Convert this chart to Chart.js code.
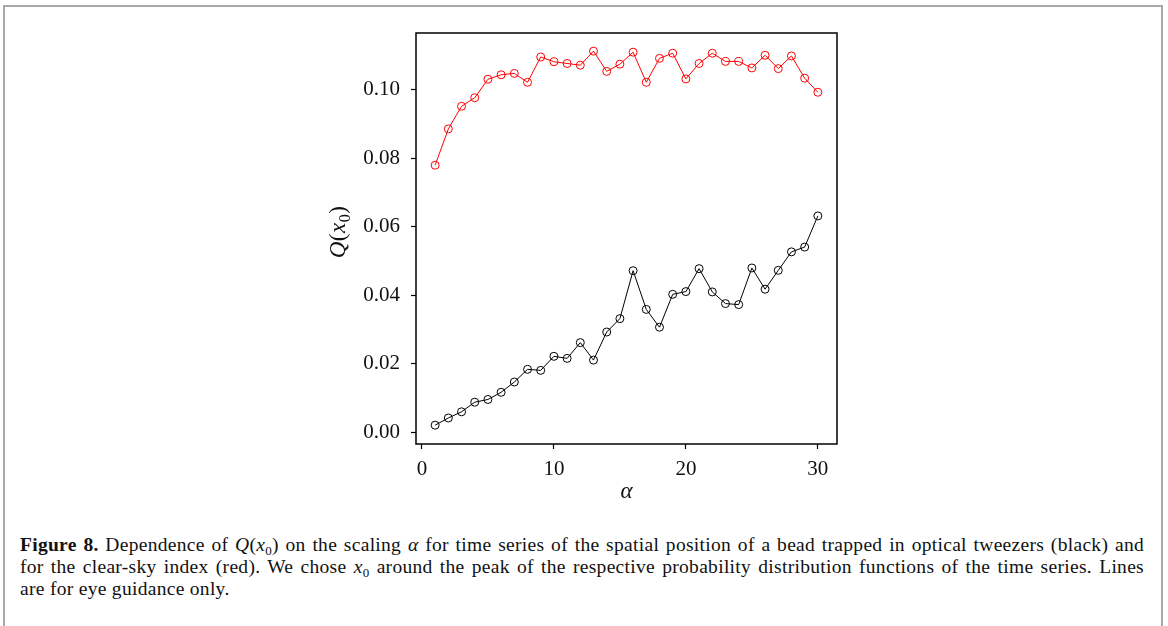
<!DOCTYPE html>
<html>
<head>
<meta charset="utf-8">
<script src="https://cdn.jsdelivr.net/npm/chart.js@4.4.1/dist/chart.umd.min.js"></script>
<style>
  body { margin: 0; background: #fff; }
  #frame {
    position: absolute; left: 3px; top: 5px; width: 1160px; height: 700px;
    border: 2px solid #a8a8a8; box-sizing: border-box;
  }
  #chart { position: absolute; left: 0; top: 0; }
  #caption {
    position: absolute; left: 20px; top: 534px; width: 1124px;
    font-family: "Liberation Serif", serif; font-size: 19.5px; line-height: 22px;
    letter-spacing: 0.3px; color: #111;
  }
  #caption div { text-align: justify; text-align-last: justify; height: 22px; white-space: nowrap; }
  #caption div.last { text-align-last: left; }
  #caption sub { font-size: 13px; line-height: 0; vertical-align: -4px; font-style: normal; }
</style>
</head>
<body>
<div id="frame"></div>
<canvas id="chart" width="1168" height="510"></canvas>
<div id="caption">
  <div><b>Figure 8.</b> Dependence of <i>Q</i>(<i>x</i><sub>0</sub>) on the scaling <i>α</i> for time series of the spatial position of a bead trapped in optical tweezers (black) and</div>
  <div>for the clear-sky index (red). We chose <i>x</i><sub>0</sub> around the peak of the respective probability distribution functions of the time series. Lines</div>
  <div class="last">are for eye guidance only.</div>
</div>
<script>
// data
const alphas = [1, 2, 3, 4, 5, 6, 7, 8, 9, 10, 11, 12, 13, 14, 15, 16, 17, 18, 19, 20, 21, 22, 23, 24, 25, 26, 27, 28, 29, 30];
const qTweezers = [0.0020, 0.0041, 0.0059, 0.0087, 0.0095, 0.0116, 0.0146, 0.0183, 0.0180, 0.0221,
  0.0215, 0.0261, 0.0210, 0.0292, 0.0331, 0.0471, 0.0358, 0.0306, 0.0402, 0.0410,
  0.0477, 0.0409, 0.0375, 0.0372, 0.0479, 0.0417, 0.0472, 0.0526, 0.0540, 0.0631];
const qClearSky = [0.0779, 0.0885, 0.0951, 0.0976, 0.1030, 0.1043, 0.1047, 0.1021, 0.1095, 0.1081,
  0.1076, 0.1071, 0.1112, 0.1053, 0.1074, 0.1109, 0.1021, 0.1091, 0.1106, 0.1031,
  0.1076, 0.1106, 0.1082, 0.1082, 0.1063, 0.1100, 0.1061, 0.1098, 0.1033, 0.0992];
const xTicks = [0, 10, 20, 30];
const yTicks = [0.00, 0.02, 0.04, 0.06, 0.08, 0.10];

function pts(ys) {
  return alphas.map((a, i) => ({ x: a, y: ys[i] }));
}

function series(ys, color) {
  return {
    data: pts(ys),
    showLine: true,
    borderColor: color,
    borderWidth: 1,
    pointStyle: "circle",
    pointRadius: 4,
    pointBorderWidth: 1,
    pointBorderColor: color,
    pointBackgroundColor: "rgba(0,0,0,0)",
  };
}

const serif = "'Liberation Serif', serif";

// box round the plot area + the Q(x0) label drawn math style
const boxPlugin = {
  id: "box",
  afterDraw(chart) {
    const a = chart.chartArea;
    const c = chart.ctx;
    c.save();
    c.strokeStyle = "#000";
    c.lineWidth = 1.5;
    c.strokeRect(a.left, a.top, a.right - a.left, a.bottom - a.top);

    // y title, rotated
    const parts = [
      { t: "Q", f: "italic 23px " + serif, dy: 0 },
      { t: "(", f: "23px " + serif, dy: 0 },
      { t: "x", f: "italic 23px " + serif, dy: 0 },
      { t: "0", f: "16px " + serif, dy: 5 },
      { t: ")", f: "23px " + serif, dy: 0 },
    ];
    let w = 0;
    parts.forEach((p) => { c.font = p.f; p.w = c.measureText(p.t).width; w += p.w + 0.5; });
    c.translate(345, 232);
    c.rotate(-Math.PI / 2);
    c.fillStyle = "#111";
    c.textBaseline = "alphabetic";
    let x = -w / 2;
    parts.forEach((p) => { c.font = p.f; c.fillText(p.t, x, p.dy); x += p.w + 0.5; });
    c.restore();
  },
};

const tickFont = { family: serif, size: 21 };
const titleFont = { family: serif, size: 23, style: "italic" };

new Chart(document.getElementById("chart"), {
  type: "scatter",
  data: { datasets: [series(qTweezers, "#000000"), series(qClearSky, "#ff0000")] },
  options: {
    responsive: false,
    animation: false,
    devicePixelRatio: 1,
    layout: { padding: { left: 320, top: 33, right: 331, bottom: 0 } },
    plugins: { legend: { display: false }, tooltip: { enabled: false } },
    scales: {
      x: {
        type: "linear",
        min: -0.45,
        max: 31.45,
        afterFit: (s) => { s.height = 66; },
        afterBuildTicks: (s) => { s.ticks = xTicks.map((v) => ({ value: v })); },
        border: { display: false },
        grid: { drawOnChartArea: false, drawTicks: true, tickLength: 5, color: "#000", tickWidth: 1.2 },
        ticks: { color: "#111", font: tickFont, padding: 8, maxRotation: 0 },
        title: { display: true, text: "α", color: "#111", font: titleFont, padding: { top: 0, bottom: 4 } },
      },
      y: {
        type: "linear",
        min: -0.0035,
        max: 0.1165,
        afterFit: (s) => { s.width = 96; },
        afterBuildTicks: (s) => { s.ticks = yTicks.map((v) => ({ value: v })); },
        border: { display: false },
        grid: { drawOnChartArea: false, drawTicks: true, tickLength: 5, color: "#000", tickWidth: 1.2 },
        ticks: { color: "#111", font: tickFont, padding: 11, callback: (v) => v.toFixed(2) },
        title: { display: false },
      },
    },
  },
  plugins: [boxPlugin],
});
</script>
</body>
</html>
